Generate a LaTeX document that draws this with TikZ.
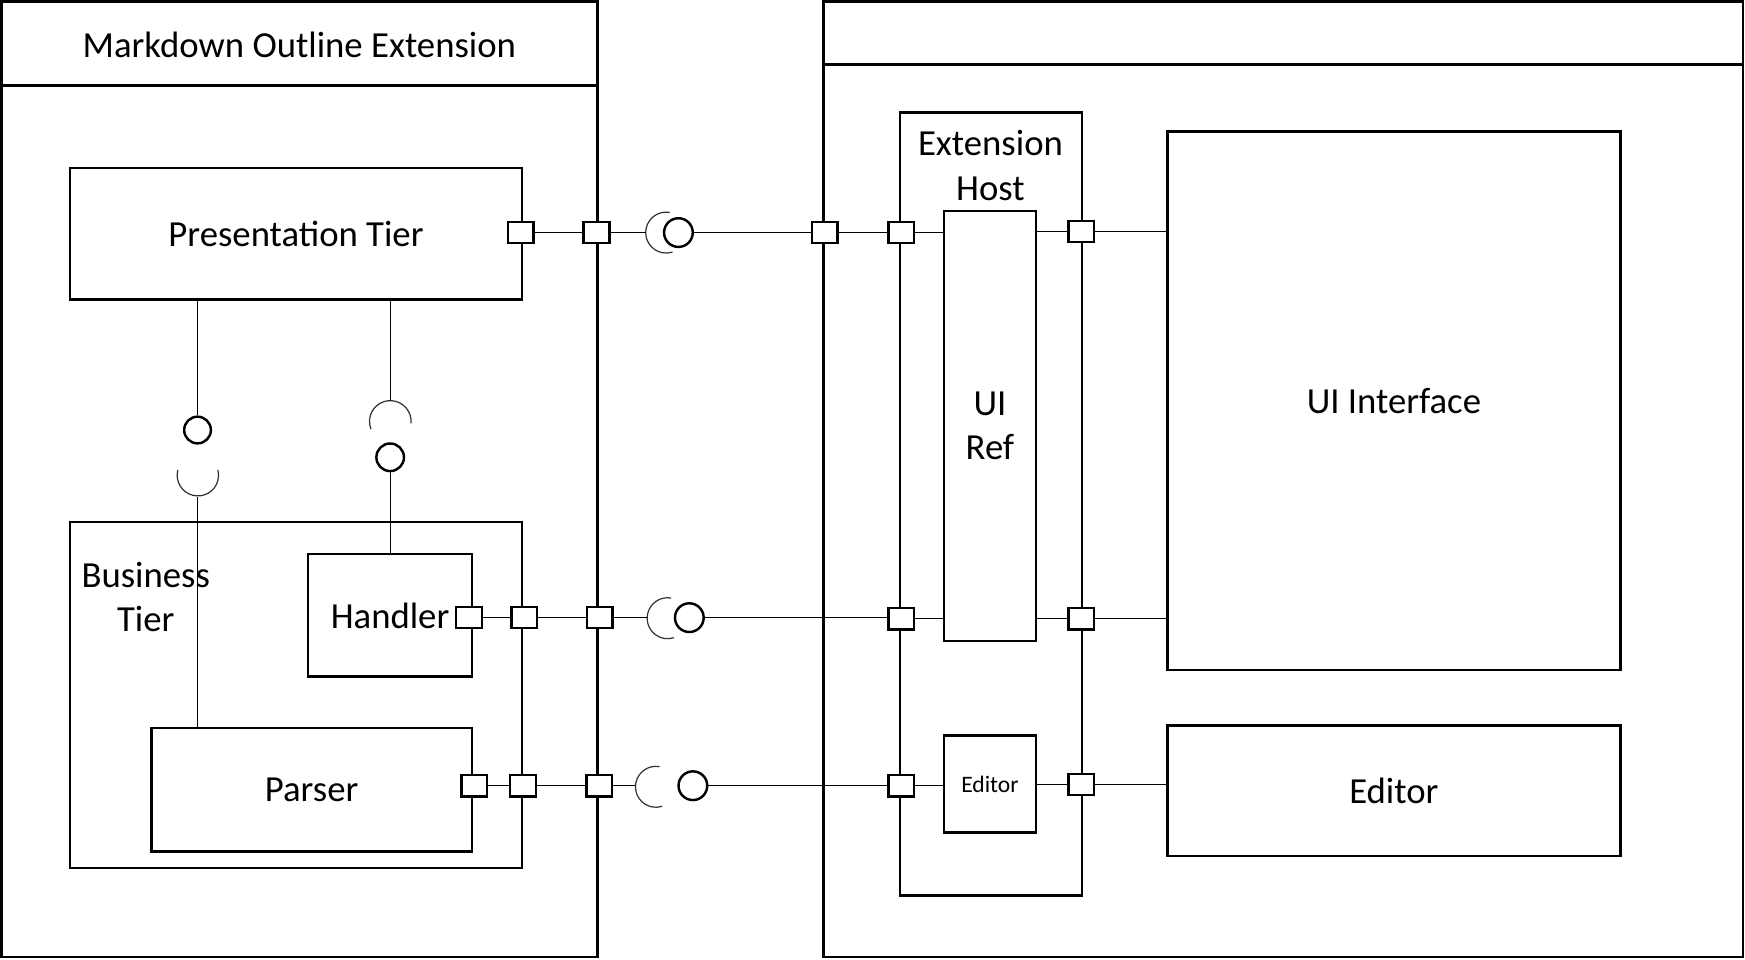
\documentclass[tikz,border=0pt]{standalone}
\usepackage{fontspec}
\setmainfont{Carlito}
\newcommand\diagfont{\fontsize{16.5}{20}\selectfont}
\newcommand\smallfont{\fontsize{10.6}{13}\selectfont}
\begin{document}
\begin{tikzpicture}[x=0.5pt,y=-0.5pt,
  frame/.style={draw, line width=1.1pt, inner sep=0pt},
  box/.style={draw, line width=1.1pt, inner sep=0pt, align=center, font=\diagfont},
  lbl/.style={inner sep=0pt, align=center, font=\diagfont},
  port/.style={draw, line width=1.1pt, fill=white, minimum width=11.5pt, minimum height=9.5pt, inner sep=0pt},
  ball/.style={circle, draw, line width=1.1pt, inner sep=0pt, fill=white},
  wire/.style={line width=0.5pt},
  sock/.style={line width=0.55pt, draw=black!80}]
\useasboundingbox (0,0) rectangle (1568,862);
% containers
\node[frame, minimum width=267.8pt, minimum height=429.3pt] (lc) at (269.2,430.6) {};
\coordinate (lh) at (0,77);
\draw[line width=1.1pt] (lh -| lc.west) -- (lh -| lc.east);
\node[lbl] (title) at (269,40) {Markdown Outline Extension};
\node[frame, minimum width=413pt, minimum height=429.3pt] (rc) at (1153,430.6) {};
\coordinate (rh) at (0,58);
\draw[line width=1.1pt] (rh -| rc.west) -- (rh -| rc.east);
% left boxes
\node[box, minimum width=203pt, minimum height=59pt] (pt) at (266,210) {Presentation Tier};
\node[box, minimum width=203pt, minimum height=155.5pt] (bt) at (266,624.5) {};
\node[lbl] (btl) at (131,536.5) {Business\\Tier};
\node[box, minimum width=73.5pt, minimum height=55pt] (handler) at (350.5,553) {Handler};
\node[box, minimum width=144pt, minimum height=55.5pt] (parser) at (280,709.5) {Parser};
% right boxes
\node[box, minimum width=81.6pt, minimum height=351.8pt] (eh) at (890.4,452.8) {};
\node[lbl] (ehl) at (890,148.5) {Extension\\Host};
\node[box, minimum width=41.2pt, minimum height=193.2pt] (uiref) at (889.5,382.8) {UI\\Ref};
\node[box, minimum width=41.2pt, minimum height=43.5pt, font=\smallfont] (edin) at (889.5,704.5) {Editor};
\node[box, minimum width=203.5pt, minimum height=242pt] (uii) at (1252.5,360) {UI Interface};
\node[box, minimum width=203.5pt, minimum height=58.5pt] (ed) at (1252.5,710.5) {Editor};
% ports row 1
\node[port] (p1a) at (468,209) {};
\node[port] (p1b) at (536,209) {};
\node[port] (p1c) at (741,209) {};
\node[port] (p1d) at (810,209) {};
\node[port] (p1e) at (971.5,208) {};
% ports row 2
\node[port] (p2a) at (421.4,555) {};
\node[port] (p2b) at (471,555) {};
\node[port] (p2c) at (539,555) {};
\node[port] (p2d) at (810,556) {};
\node[port] (p2e) at (971.5,556) {};
% ports row 3
\node[port] (p3a) at (426,706) {};
\node[port] (p3b) at (470,706) {};
\node[port] (p3c) at (538.5,706) {};
\node[port] (p3d) at (810,706) {};
\node[port] (p3e) at (971.5,705) {};
% balls
\node[ball, minimum size=12.9pt] (b1) at (609.6,209) {};
\node[ball, minimum size=12.9pt] (b2) at (619.4,555) {};
\node[ball, minimum size=12.9pt] (b3) at (622.6,706) {};
\node[ball, minimum size=12pt] (lb) at (177.5,386.4) {};
\node[ball, minimum size=12.4pt] (rb) at (350.6,410.9) {};
% sockets
\draw[sock] (598.6,209) ++(80:9.2pt) arc[start angle=80, end angle=288, radius=9.2pt];
\draw[sock] (599.9,555.5) ++(80:9.2pt) arc[start angle=80, end angle=288, radius=9.2pt];
\draw[sock] (589.4,707) ++(80:9.2pt) arc[start angle=80, end angle=288, radius=9.2pt];
\draw[sock] (177.8,427) ++(165:9.3pt) arc[start angle=165, end angle=375, radius=9.3pt];
\draw[sock] (350.7,378.7) ++(-5:9.35pt) arc[start angle=-5, end angle=202, radius=9.35pt];
\coordinate (s1) at (580.2,209);
\coordinate (s2) at (581.4,555);
\coordinate (s3) at (570.9,706);
\coordinate (lsb) at (177.5,447);
\coordinate (rst) at (350.7,360);
% row 1 wires
\draw[wire] (p1a.east) -- (p1b.west);
\draw[wire] (p1b.east) -- (s1);
\draw[wire] (b1.east) -- (p1c.west);
\draw[wire] (p1c.east) -- (p1d.west);
\draw[wire] (p1d.east) -- (p1d.east -| uiref.west);
\draw[wire] (p1e.west -| uiref.east) -- (p1e.west);
\draw[wire] (p1e.east) -- (p1e.east -| uii.west);
% row 2 wires
\draw[wire] (p2a.east) -- (p2b.west);
\draw[wire] (p2b.east) -- (p2c.west);
\draw[wire] (p2c.east) -- (s2);
\draw[wire] (b2.east) -- (b2.east -| p2d.west);
\draw[wire] (p2d.east) -- (p2d.east -| uiref.west);
\draw[wire] (p2e.west -| uiref.east) -- (p2e.west);
\draw[wire] (p2e.east) -- (p2e.east -| uii.west);
% row 3 wires
\draw[wire] (p3a.east) -- (p3b.west);
\draw[wire] (p3b.east) -- (p3c.west);
\draw[wire] (p3c.east) -- (s3);
\draw[wire] (b3.east) -- (p3d.west);
\draw[wire] (p3d.east) -- (p3d.east -| edin.west);
\draw[wire] (p3e.west -| edin.east) -- (p3e.west);
\draw[wire] (p3e.east) -- (p3e.east -| ed.west);
% vertical wires
\draw[wire] (lb.north) -- (lb.north |- pt.south);
\draw[wire] (lsb) -- (lsb |- parser.north);
\draw[wire] (rst) -- (rst |- pt.south);
\draw[wire] (rb.south) -- (rb.south |- handler.north);
\end{tikzpicture}
\end{document}
